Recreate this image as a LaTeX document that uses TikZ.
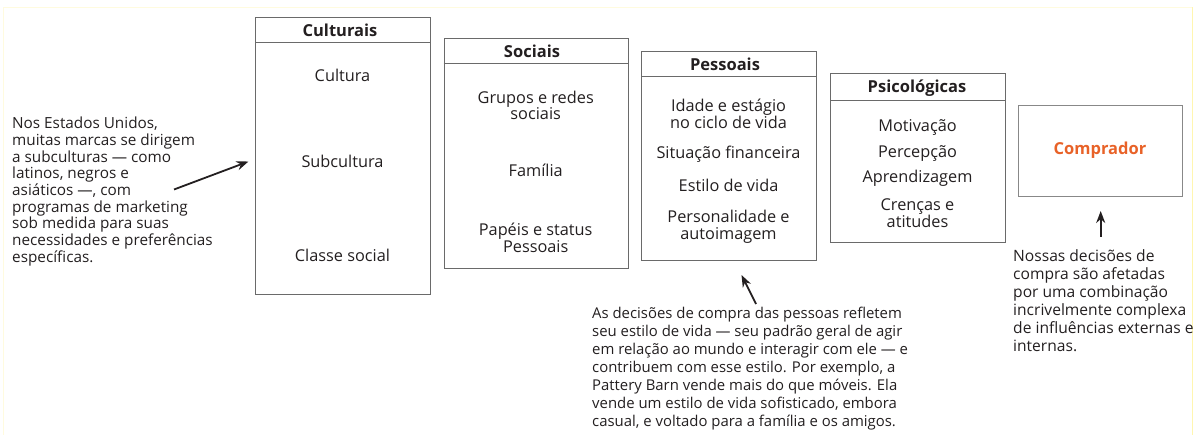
\documentclass[tikz,border=0pt]{standalone}
\usepackage{fontspec}
\setmainfont{Open Sans}
\usetikzlibrary{arrows.meta}
\definecolor{txt}{HTML}{231F20}
\definecolor{boxline}{HTML}{6A6A6A}
\definecolor{orangeC}{RGB}{232,98,40}
\definecolor{frameY}{HTML}{FFF6B0}
\begin{document}
\begin{tikzpicture}[x=1pt,y=-1pt,
  box/.style={draw=boxline, line width=0.9pt, anchor=north west, inner sep=0pt},
  head/.style={font=\fontsize{16.5}{18}\bfseries\selectfont, text=txt, inner sep=0pt},
  item/.style={font=\fontsize{16.3}{16.7}\selectfont, text=txt, align=center, inner sep=0pt},
  note/.style={font=\fontsize{15.3}{16.7}\selectfont, text=txt, align=left, inner sep=0pt, anchor=west},
  arr/.style={-{Stealth[length=12pt,width=9pt]}, line width=1.8pt, txt}
]
\useasboundingbox (0,0) rectangle (1199,435);
% faint page frame
\draw[frameY!40, line width=0.8pt] (3,435) -- (3,7) -- (1192,7);
\draw[frameY, line width=0.8pt] (1192,7) -- (1192,435);

% Culturais
\node[box, minimum width=175pt, minimum height=277pt] (cul) at (255,17) {};
\draw[boxline, line width=0.9pt] (255,42) -- (430,42);
\node[head] (culh) at (340,30) {Culturais};
\node[item] (cul1) at (342.5,75) {Cultura};
\node[item] (cul2) at (342.5,161) {Subcultura};
\node[item] (cul3) at (342.5,255.5) {Classe social};

% Sociais
\node[box, minimum width=184.5pt, minimum height=230.5pt] (soc) at (443.5,38) {};
\draw[boxline, line width=0.9pt] (443.5,63.5) -- (628,63.5);
\node[head] (soch) at (532,51.5) {Sociais};
\node[item] (soc1) at (535.7,105.5) {Grupos e redes\\sociais};
\node[item] (soc2) at (535.7,170.5) {Família};
\node[item] (soc3) at (535.7,237.5) {Papéis e status\\Pessoais};

% Pessoais
\node[box, minimum width=175pt, minimum height=209.5pt] (pes) at (641,51) {};
\draw[boxline, line width=0.9pt] (641,76) -- (816,76);
\node[head] (pesh) at (725,64) {Pessoais};
\node[item] (pes1) at (728.5,113.5) {Idade e estágio\\no ciclo de vida};
\node[item] (pes2) at (728.5,154.3) {Situação financeira};
\node[item] (pes3) at (728.5,185.7) {Estilo de vida};
\node[item] (pes4) at (728.5,226.7) {Personalidade e\\autoimagem};

% Psicologicas
\node[box, minimum width=175pt, minimum height=169pt] (psi) at (830,73.5) {};
\draw[boxline, line width=0.9pt] (830,100) -- (1005,100);
\node[head] (psih) at (917,88.3) {Psicológicas};
\node[item] (psi1) at (917.5,127.3) {Motivação};
\node[item] (psi2) at (917.5,153.3) {Percepção};
\node[item] (psi3) at (917.5,178.3) {Aprendizagem};
\node[item] (psi4) at (917.5,213) {Crenças e\\atitudes};

% Comprador
\node[box, draw=boxline!80, minimum width=164pt, minimum height=91pt] (comp) at (1018,105) {};
\node[head, text=orangeC] (comph) at (1100,150) {Comprador};

% Notes
\node[note] (nl) at (12,191.5) {Nos Estados Unidos,\\muitas marcas se dirigem\\a subculturas — como\\latinos, negros e\\asiáticos —, com\\programas de marketing\\sob medida para suas\\necessidades e preferências\\específicas.};
\node[note, font=\fontsize{14.9}{18}\selectfont] (nb) at (592,368.5) {As decisões de compra das pessoas refletem\\seu estilo de vida — seu padrão geral de agir\\em relação ao mundo e interagir com ele — e\\contribuem com esse estilo. Por exemplo, a\\Pattery Barn vende mais do que móveis. Ela\\vende um estilo de vida sofisticado, embora\\casual, e voltado para a família e os amigos.};
\node[note, font=\fontsize{15.6}{18}\selectfont] (nr) at (1013,300.5) {Nossas decisões de\\compra são afetadas\\por uma combinação\\incrivelmente complexa\\de influências externas e\\internas.};

% arrows
\coordinate (a1s) at (174,189.5);
\coordinate (a1e) at (248.5,161.5);
\coordinate (a2s) at (756,304);
\coordinate (a2e) at (741.5,275);
\coordinate (a3s) at (1100.7,237);
\coordinate (a3e) at (1100.7,211);
\draw[arr] (a1s) -- (a1e);
\draw[arr] (a2s) -- (a2e);
\draw[arr] (a3s) -- (a3e);
\end{tikzpicture}
\end{document}
